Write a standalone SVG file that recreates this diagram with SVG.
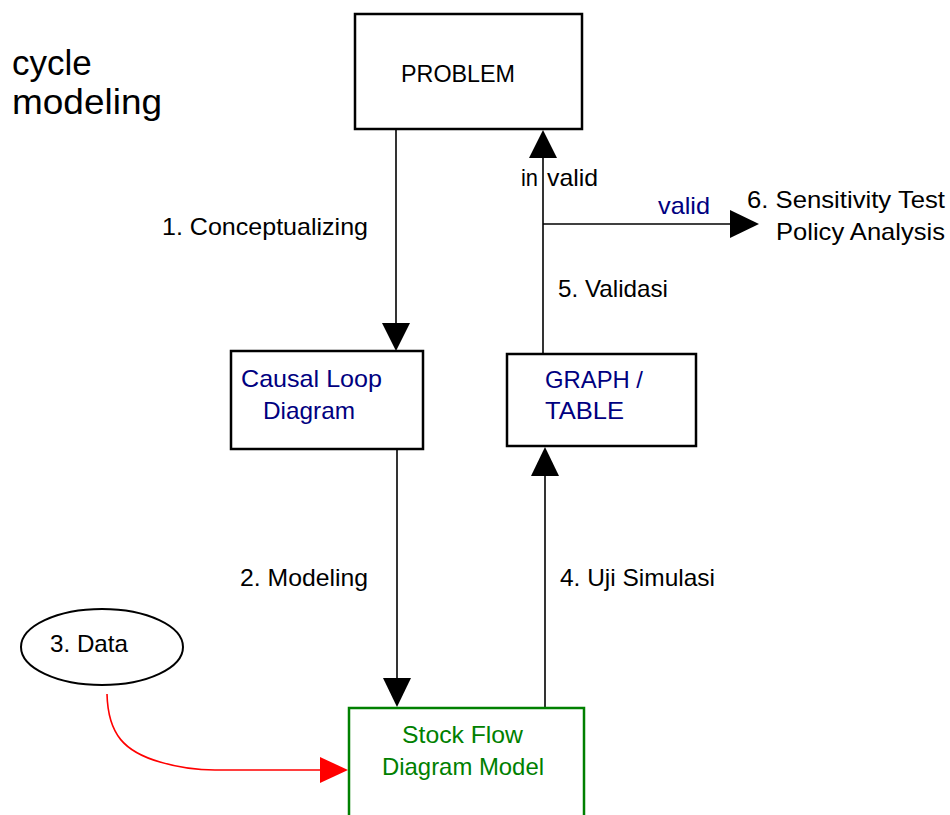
<svg xmlns="http://www.w3.org/2000/svg" width="950" height="815" viewBox="0 0 950 815">
<style>
text{font-family:"Liberation Sans",Arial,sans-serif;font-size:24px;fill:#000}
.navy{fill:#000080}
.green{fill:#008000}
.box{fill:#fff;stroke:#000;stroke-width:2.5}
.gbox{fill:#fff;stroke:#008000;stroke-width:2.5}
.line{fill:none;stroke:#000;stroke-width:1.6}
.red{fill:none;stroke:#ff0000;stroke-width:1.6}
.head{fill:#000}
.rhead{fill:#ff0000}
</style>
<rect width="950" height="815" fill="#fff"/>
<g id="title">
<text x="12" y="75" style="font-size:35px">cycle</text>
<text x="12" y="114" style="font-size:35px" textLength="150" lengthAdjust="spacingAndGlyphs">modeling</text>
</g>
<g id="connectors">
<line class="line" x1="396" y1="130" x2="396" y2="325"/>
<polygon class="head" points="382,323 410,323 396,351"/>
<line class="line" x1="397" y1="449" x2="397" y2="680"/>
<polygon class="head" points="383,678 411,678 397,707"/>
<line class="line" x1="545" y1="708" x2="545" y2="474"/>
<polygon class="head" points="531,476 559,476 545,447"/>
<line class="line" x1="543" y1="354" x2="543" y2="156"/>
<polygon class="head" points="529,158 557,158 543,130"/>
<line class="line" x1="543" y1="224" x2="732" y2="224"/>
<polygon class="head" points="730,210 730,238 759,224"/>
<path class="red" d="M107,694 C108,735 125,752 160,762 C180,768 195,770 215,770 L322,770"/>
<polygon class="rhead" points="320,757 320,783 348,770"/>
<text x="162" y="235" textLength="206" lengthAdjust="spacingAndGlyphs">1. Conceptualizing</text>
<text x="240" y="586" textLength="128" lengthAdjust="spacingAndGlyphs">2. Modeling</text>
<text x="560" y="586" textLength="155" lengthAdjust="spacingAndGlyphs">4. Uji Simulasi</text>
<text x="558" y="297" textLength="110" lengthAdjust="spacingAndGlyphs">5. Validasi</text>
<text x="521" y="186" textLength="17" lengthAdjust="spacingAndGlyphs">in</text>
<text x="547" y="186" textLength="51" lengthAdjust="spacingAndGlyphs">valid</text>
<text class="navy" x="658" y="214" textLength="52" lengthAdjust="spacingAndGlyphs">valid</text>
<text x="747" y="208" textLength="198" lengthAdjust="spacingAndGlyphs">6. Sensitivity Test</text>
<text x="776" y="240" textLength="169" lengthAdjust="spacingAndGlyphs">Policy Analysis</text>
</g>
<g id="problem">
<rect class="box" x="355" y="14" width="227" height="115"/>
<text x="401" y="82" textLength="114" lengthAdjust="spacingAndGlyphs">PROBLEM</text>
</g>
<g id="causal-loop">
<rect class="box" x="231" y="351" width="192" height="98"/>
<text class="navy" x="241" y="387" textLength="141" lengthAdjust="spacingAndGlyphs">Causal Loop</text>
<text class="navy" x="263" y="419" textLength="92" lengthAdjust="spacingAndGlyphs">Diagram</text>
</g>
<g id="graph-table">
<rect class="box" x="507" y="354" width="189" height="92"/>
<text class="navy" x="545" y="388" textLength="98" lengthAdjust="spacingAndGlyphs">GRAPH /</text>
<text class="navy" x="545" y="419" textLength="79" lengthAdjust="spacingAndGlyphs">TABLE</text>
</g>
<g id="stock-flow">
<rect class="gbox" x="349" y="708" width="235" height="120"/>
<text class="green" x="402" y="743" textLength="121" lengthAdjust="spacingAndGlyphs">Stock Flow</text>
<text class="green" x="382" y="775" textLength="162" lengthAdjust="spacingAndGlyphs">Diagram Model</text>
</g>
<g id="data">
<ellipse cx="102" cy="647" rx="81" ry="38" fill="#fff" stroke="#000" stroke-width="2"/>
<text x="50" y="652" textLength="78" lengthAdjust="spacingAndGlyphs">3. Data</text>
</g>
</svg>
